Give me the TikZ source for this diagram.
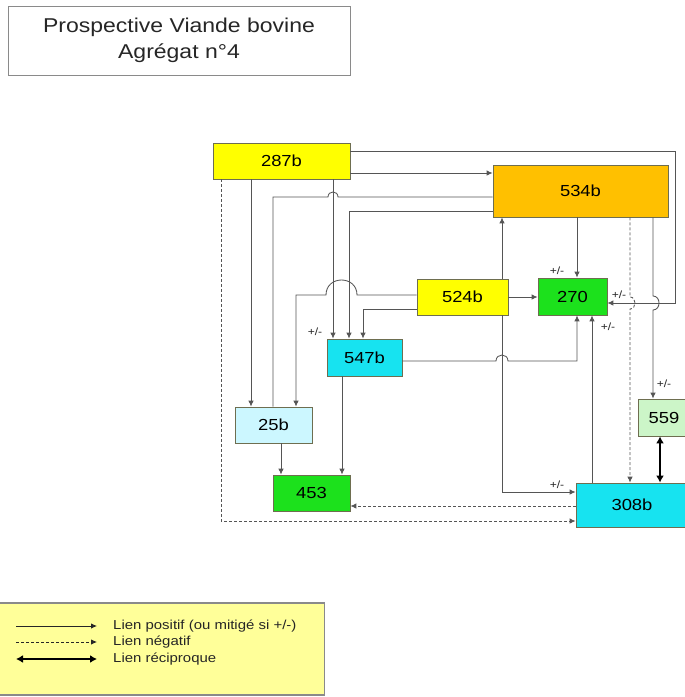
\documentclass[tikz,border=0pt]{standalone}
\usepackage{fontspec}
\setmainfont{Liberation Sans}[FakeStretch=1.15]
\usetikzlibrary{arrows.meta}

\definecolor{ylw}{HTML}{FFFF00}
\definecolor{orng}{HTML}{FFC000}
\definecolor{grn}{HTML}{1CE11C}
\definecolor{cyn}{HTML}{17E3F0}
\definecolor{lcyn}{HTML}{CCF7FF}
\definecolor{lgrn}{HTML}{CCF5C8}
\definecolor{legbg}{HTML}{FFFF99}
\definecolor{wire}{HTML}{555555}
\definecolor{boxedge}{HTML}{6E6E50}
\definecolor{frame}{HTML}{8A8A8A}

\tikzset{
  box/.style={draw=boxedge, line width=0.8pt, inner sep=0pt,
    font=\fontsize{16}{16}\selectfont},
  wireline/.style={draw=wire, line width=0.85pt},
  link/.style={wireline, -{Latex[length=6pt,width=5.5pt]}},
  neg/.style={link, dash pattern=on 3pt off 2pt},
  mutual/.style={draw=black, line width=2.6pt,
    {Latex[length=7pt,width=8pt]}-{Latex[length=7pt,width=8pt]}},
  mix/.style={font=\fontsize{10.5}{10.5}\selectfont, inner sep=0pt, text=black!85},
  legtext/.style={anchor=west, inner sep=0pt, font=\fontsize{13}{13}\selectfont, text=black!85}
}

\begin{document}
\begin{tikzpicture}[x=1pt, y=-1pt]
\useasboundingbox (0,0) rectangle (685,697);
\clip (0,0) rectangle (685,697);

% title
\node[draw=frame, line width=1pt, minimum width=342pt, minimum height=69pt,
      align=center, font=\fontsize{20}{26}\selectfont, text=black!85]
  (title) at (179,40.5) {Prospective Viande bovine\\Agrégat n°4};

% variables
\node[box, fill=ylw,  minimum width=137pt, minimum height=36pt] (n287) at (281.5,161) {287b};
\node[box, fill=orng, minimum width=175pt, minimum height=52pt] (n534) at (580.5,191) {534b};
\node[box, fill=ylw,  minimum width=91pt,  minimum height=36pt] (n524) at (462.5,297) {524b};
\node[box, fill=grn,  minimum width=69pt,  minimum height=37pt] (n270) at (572.5,296.5) {270};
\node[box, fill=cyn,  minimum width=75pt,  minimum height=37pt] (n547) at (364.5,357.5) {547b};
\node[box, fill=lcyn, minimum width=77pt,  minimum height=36pt] (n25)  at (273.5,425) {25b};
\node[box, fill=grn,  minimum width=77pt,  minimum height=36pt] (n453) at (311.5,493) {453};
\node[box, fill=cyn,  minimum width=112pt, minimum height=44pt] (n308) at (632,505) {308b};
\node[box, fill=lgrn, minimum width=52pt,  minimum height=37pt] (n559) at (664,417.5) {559};

% links from 287b
\draw[link] (n287.south -| 251,0) -- (n25.north -| 251,0);
\draw[link] (n287.south -| 333,0) -- (n547.north -| 333,0);
\draw[link] (n287.east |- 0,173) -- (n534.west |- 0,173);
\draw[link] (n287.east |- 0,151) -- (675,151) -- (675,303) -- (n270.east |- 0,303);
\draw[neg]  (n287.south -| 221,0) -- (221,521) -- (n308.west |- 0,521);

% 25b and 534b
\draw[wireline] (n25.north -| 273,0) -- (273,197) -- (328,197)
  .. controls (328,190.3) and (338,190.3) .. (338,197) -- (n534.west |- 0,197);

% links from 534b
\draw[link] (n534.west |- 0,211) -- (349,211) -- (n547.north -| 349,0);
\draw[link] (n534.south -| 577,0) -- (n270.north -| 577,0);
\draw[neg]  (n534.south -| 630,0) -- (630,297)
  .. controls (636.7,297) and (636.7,309) .. (630,309) -- (n308.north -| 630,0);
\draw[link] (n534.south -| 653,0) -- (653,296)
  .. controls (661,296) and (661,310) .. (653,310) -- (n559.north -| 653,0);

% links from 524b
\draw[link] (n524.west |- 0,295) -- (357,295)
  .. controls (357,275) and (326,275) .. (326,295) -- (296,295) -- (n25.north -| 296,0);
\draw[link] (n524.west |- 0,309) -- (363,309) -- (n547.north -| 363,0);
\draw[link] (n524.east |- 0,297) -- (n270.west |- 0,297);
\draw[link] (n524.north -| 502,0) -- (n534.south -| 502,0);
\draw[link] (n524.south -| 502,0) -- (502,492) -- (n308.west |- 0,492);

% links from 547b
\draw[link] (n547.east |- 0,361) -- (496,361)
  .. controls (496,353) and (508,353) .. (508,361) -- (577,361) -- (n270.south -| 577,0);
\draw[link] (n547.south -| 342,0) -- (n453.north -| 342,0);

% remaining links
\draw[link] (n25.south -| 281,0) -- (n453.north -| 281,0);
\draw[link] (n308.north -| 592,0) -- (n270.south -| 592,0);
\draw[neg]  (n308.west |- 0,506) -- (n453.east |- 0,506);
\draw[mutual] (n559.south -| 660,0) -- (n308.north -| 660,0);

% mixed-sign marks
\node[mix] (m1) at (557,271) {+/-};
\node[mix] (m2) at (619,295) {+/-};
\node[mix] (m3) at (608,327) {+/-};
\node[mix] (m4) at (315,332) {+/-};
\node[mix] (m5) at (664,384) {+/-};
\node[mix] (m6) at (557,485) {+/-};

% key
\node[draw=frame, fill=legbg, line width=1.6pt, minimum width=327pt, minimum height=92pt,
      inner sep=0pt] (key) at (161,649) {};
\coordinate (k1a) at (16,626); \coordinate (k1b) at (97,626);
\coordinate (k2a) at (16,642); \coordinate (k2b) at (97,642);
\coordinate (k3a) at (16,659); \coordinate (k3b) at (97,659);
\draw[link, draw=black!85] (k1a) -- (k1b);
\draw[neg, draw=black!85] (k2a) -- (k2b);
\draw[mutual, line width=2.2pt] (k3a) -- (k3b);
\node[legtext] (t1) at (113,626) {Lien positif (ou mitigé si +/-)};
\node[legtext] (t2) at (113,642) {Lien négatif};
\node[legtext] (t3) at (113,659) {Lien réciproque};
\end{tikzpicture}
\end{document}
